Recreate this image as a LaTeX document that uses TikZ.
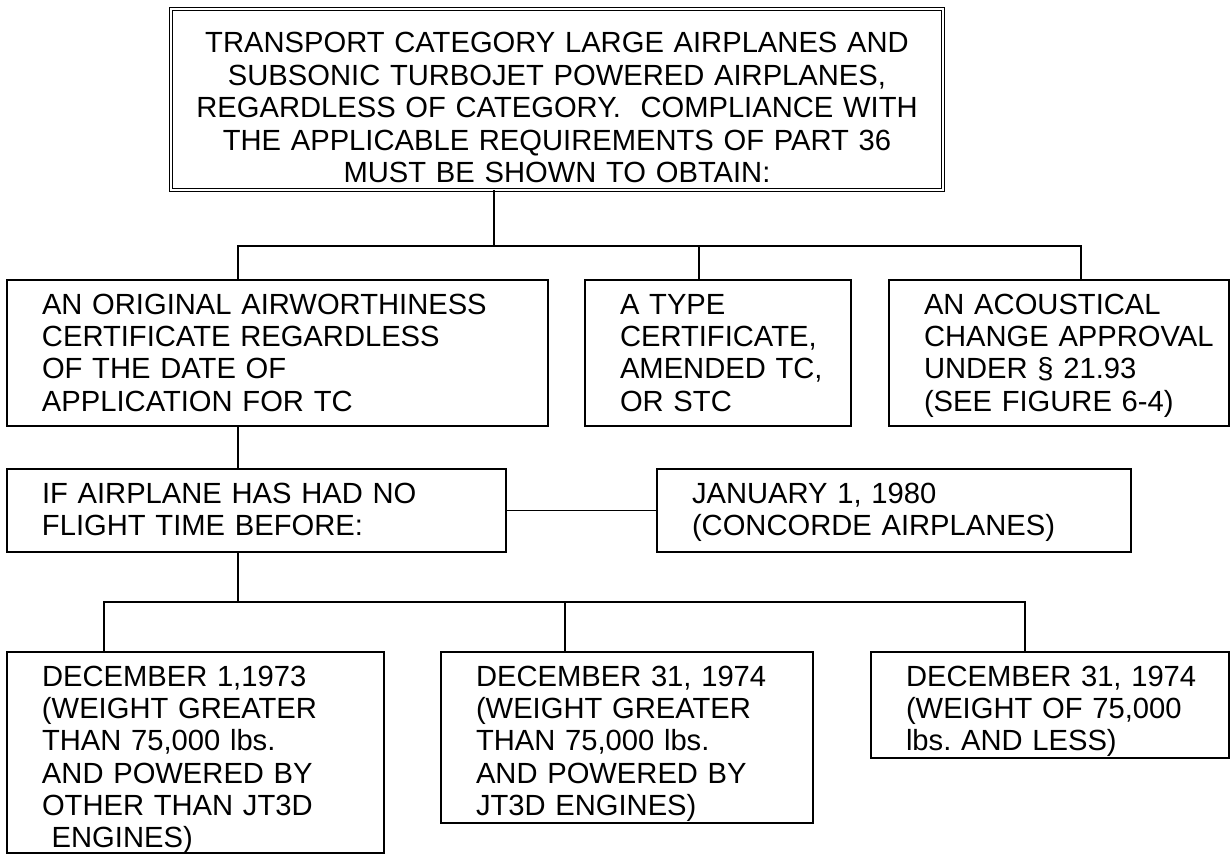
\documentclass[tikz,border=0pt]{standalone}
\usepackage{fontspec}
\setmainfont{Liberation Sans}
\usetikzlibrary{positioning}

\begin{document}
\begin{tikzpicture}[
  line width=1.1pt,
  reqbox/.style={draw, double, line width=0.8pt, double distance=0.34mm,
                 anchor=north west, align=center, inner sep=0pt, outer sep=0pt,
                 font=\fontsize{16.6pt}{18.4pt}\selectfont,
                 text width=154.4mm, text height=8.8mm, text depth=27.4mm},
  box/.style={draw, anchor=north west, align=left, inner sep=0pt, outer sep=0pt,
              font=\fontsize{16.6pt}{18.4pt}\selectfont,
              text height=6.8mm, execute at begin node={\leftskip=7mm}}
]
  \useasboundingbox (0,0) rectangle (246.4mm,-171.2mm);

  % Requirement
  \node[reqbox] (req) at (34.2mm,-1.8mm)
    {TRANSPORT CATEGORY LARGE AIRPLANES AND\\
     SUBSONIC TURBOJET POWERED AIRPLANES,\\
     REGARDLESS OF CATEGORY.\ \ COMPLIANCE WITH\\
     THE APPLICABLE REQUIREMENTS OF PART 36\\
     MUST BE SHOWN TO OBTAIN:};

  % Certificates
  \node[box, text width=108.2mm, text depth=22.4mm,
        below left=18mm and 32.8mm of req.south west, anchor=north west] (orig)
    {AN ORIGINAL AIRWORTHINESS\\CERTIFICATE REGARDLESS\\OF THE DATE OF\\APPLICATION FOR TC};
  \node[box, text width=53.2mm, text depth=22.4mm,
        right=7.4mm of orig.north east, anchor=north west] (tc)
    {A TYPE\\CERTIFICATE,\\AMENDED TC,\\OR STC};
  \node[box, text width=68mm, text depth=22.4mm,
        right=7.6mm of tc.north east, anchor=north west] (acc)
    {AN ACOUSTICAL\\CHANGE APPROVAL\\UNDER § 21.93\\(SEE FIGURE 6-4)};

  % Flight time
  \node[box, text width=99.8mm, text depth=9.8mm,
        below=8.6mm of orig.south west, anchor=north west] (nofly)
    {IF AIRPLANE HAS HAD NO\\FLIGHT TIME BEFORE:};
  \node[box, text width=94.8mm, text depth=9.8mm,
        right=30.2mm of nofly.north east, anchor=north west] (conc)
    {JANUARY 1, 1980\\(CONCORDE AIRPLANES)};

  % Dates
  \node[box, text width=75.4mm, text depth=33.4mm,
        below=20mm of nofly.south west, anchor=north west] (heavy)
    {DECEMBER 1,1973\\(WEIGHT GREATER\\THAN 75,000 lbs.\\AND POWERED BY\\OTHER THAN JT3D\\\ ENGINES)};
  \node[box, text width=74.4mm, text depth=27.4mm,
        right=11.4mm of heavy.north east, anchor=north west] (jtd)
    {DECEMBER 31, 1974\\(WEIGHT GREATER\\THAN 75,000 lbs.\\AND POWERED BY\\JT3D ENGINES)};
  \node[box, text width=71.6mm, text depth=14.4mm,
        right=11.6mm of jtd.north east, anchor=north west] (light)
    {DECEMBER 31, 1974\\(WEIGHT OF 75,000\\lbs.\ AND LESS)};

  % Tree lines
  \coordinate (fork1) at ([xshift=64.6mm, yshift=-11.2mm]req.south west);
  \coordinate (ta) at ([xshift=46.2mm]orig.north west);
  \coordinate (tb) at ([xshift=22.8mm]tc.north west);
  \coordinate (tcc) at ([xshift=38.4mm]acc.north west);
  \draw (fork1 |- req.south) -- (fork1);
  \draw (ta) |- (tcc |- fork1) -- (tcc);
  \draw (tb) -- (tb |- fork1);

  \draw (ta |- orig.south) -- (ta |- nofly.north);
  \draw (nofly) -- (conc);

  \coordinate (fork2) at ([xshift=46.2mm, yshift=-10mm]nofly.south west);
  \coordinate (td) at ([xshift=19.4mm]heavy.north west);
  \coordinate (te) at ([xshift=24.8mm]jtd.north west);
  \coordinate (tf) at ([xshift=30.8mm]light.north west);
  \draw (fork2 |- nofly.south) -- (fork2);
  \draw (td) |- (tf |- fork2) -- (tf);
  \draw (te) -- (te |- fork2);
\end{tikzpicture}
\end{document}
